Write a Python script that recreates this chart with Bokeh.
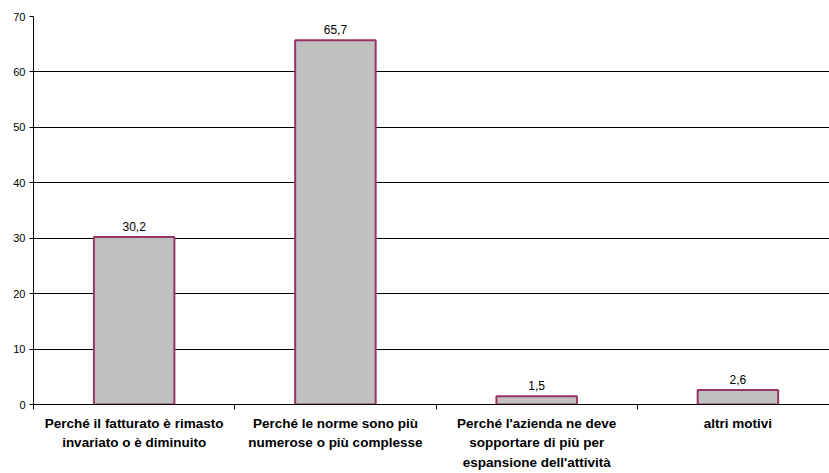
from bokeh.plotting import figure
from bokeh.models import FixedTicker, Range1d, ColumnDataSource, LabelSet
from bokeh.core.properties import value
from bokeh.embed import file_html
from bokeh.resources import INLINE

categories = [
    "Perché il fatturato è rimasto\ninvariato o è diminuito",
    "Perché le norme sono più\nnumerose o più complesse",
    "Perché l'azienda ne deve\nsopportare di più per\nespansione dell'attività",
    "altri motivi",
]
values = [30.2, 65.7, 1.5, 2.6]
y_ticks = [0, 10, 20, 30, 40, 50, 60, 70]

n = len(categories)
centers = [i + 0.5 for i in range(n)]
bounds = [float(i) for i in range(n + 1)]
value_labels = [f"{v:.1f}".replace(".", ",") for v in values]

source = ColumnDataSource(dict(x=centers, top=values, lab=value_labels))

p = figure(
    width=829, height=473,
    output_backend="svg", toolbar_location=None,
    x_range=Range1d(0, 3.955), y_range=Range1d(0, 70),
    min_border_left=33, min_border_right=0, min_border_top=16, min_border_bottom=69,
)
p.outline_line_color = None
p.background_fill_color = "white"

p.vbar(x="x", top="top", width=0.4, source=source,
       fill_color="#C0C0C0", line_color="#993366", line_width=2)

labels = LabelSet(x="x", y="top", text="lab", source=source,
                  text_align="center", text_baseline="bottom", y_offset=6,
                  text_font=value("Liberation Sans"), text_font_size=value("12px"),
                  text_color="black")
p.add_layout(labels)

# y axis
p.yaxis.ticker = FixedTicker(ticks=y_ticks, minor_ticks=[])
p.yaxis.major_tick_out = 4
p.yaxis.major_tick_in = 0
p.yaxis.major_label_standoff = 4
p.yaxis.major_label_text_font = "Liberation Sans"
p.yaxis.major_label_text_font_size = "11px"
p.yaxis.major_label_text_color = "black"
p.yaxis.axis_line_color = "black"
p.yaxis.major_tick_line_color = "black"

p.ygrid.ticker = FixedTicker(ticks=y_ticks)
p.ygrid.grid_line_color = "black"
p.ygrid.grid_line_width = 1
p.xgrid.grid_line_color = None

# x axis
p.xaxis.ticker = FixedTicker(ticks=centers, minor_ticks=bounds)
p.xaxis.major_label_overrides = {c: lab for c, lab in zip(centers, categories)}
p.xaxis.major_tick_line_color = None
p.xaxis.major_tick_out = 5
p.xaxis.major_tick_in = 0
p.xaxis.minor_tick_line_color = "black"
p.xaxis.minor_tick_out = 5
p.xaxis.minor_tick_in = 0
p.xaxis.major_label_standoff = 6
p.xaxis.major_label_text_font = "Liberation Sans"
p.xaxis.major_label_text_font_style = "bold"
p.xaxis.major_label_text_font_size = "13.5px"
p.xaxis.major_label_text_line_height = 1.3
p.xaxis.major_label_text_color = "black"
p.xaxis.axis_line_color = "black"

open("out.html", "w").write(file_html(p, INLINE))
